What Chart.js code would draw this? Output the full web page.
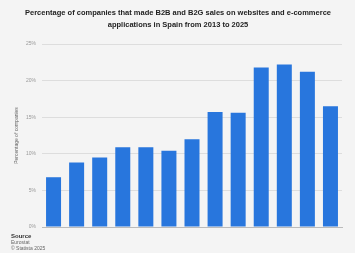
<!DOCTYPE html>
<html>
<head>
<meta charset="utf-8">
<script src="https://cdn.jsdelivr.net/npm/chart.js@4"></script>
<style>
    html, body { margin: 0; padding: 0; background: #f4f4f4; }
    #wrap { position: relative; width: 355px; height: 253px; font-family: Arial, "Liberation Sans", sans-serif; }
    #footer { position: absolute; left: 11px; top: 233px; font-size: 5px; line-height: 6px; color: #666; }
    #footer b { color: #333; font-size: 6px; }
</style>
</head>
<body>
<div id="wrap">
    <canvas id="chart" width="355" height="253"></canvas>
    <div id="footer"><b>Source</b><br>Eurostat<br>© Statista 2025</div>
</div>
<script>
// ── Data ───────────────────────────────────────────────────
const years  = ['2013','2014','2015','2016','2017','2018','2019','2020','2021','2022','2023','2024','2025'];
const shares = [6.8, 8.8, 9.5, 10.9, 10.9, 10.4, 12.0, 15.7, 15.6, 21.8, 22.2, 21.2, 16.5];
const yTicks = [0, 5, 10, 15, 20, 25];

new Chart(document.getElementById('chart'), {
    type: 'bar',
    data: {
        labels: years,
        datasets: [{
            data: shares,
            backgroundColor: '#2876dd',
            categoryPercentage: 0.65,
            barPercentage: 1
        }]
    },
    options: {
        responsive: false,
        animation: false,
        layout: { padding: { left: 14, right: 13, top: 0, bottom: 18 } },
        plugins: {
            legend: { display: false },
            tooltip: { enabled: false },
            title: {
                display: true,
                text: ['Percentage of companies that made B2B and B2G sales on websites and e-commerce',
                       'applications in Spain from 2013 to 2025'],
                color: '#222',
                font: { family: 'Arial, "Liberation Sans", sans-serif', size: 7.5, weight: 'bold', lineHeight: 1.6 },
                padding: { top: 7, bottom: 13 }
            }
        },
        scales: {
            x: {
                ticks: { display: false },
                grid: { display: false },
                border: { color: '#bbb' }
            },
            y: {
                min: 0, max: 25,
                afterBuildTicks: axis => { axis.ticks = yTicks.map(v => ({ value: v })); },
                ticks: {
                    color: '#999',
                    font: { family: 'Arial, "Liberation Sans", sans-serif', size: 5 },
                    padding: 6,
                    callback: v => v + '%'
                },
                grid: { color: '#ddd', drawTicks: false },
                border: { display: false },
                title: {
                    display: true,
                    text: 'Percentage of companies',
                    color: '#666',
                    font: { family: 'Arial, "Liberation Sans", sans-serif', size: 5 },
                    padding: 0
                }
            }
        }
    }
});
</script>
</body>
</html>
